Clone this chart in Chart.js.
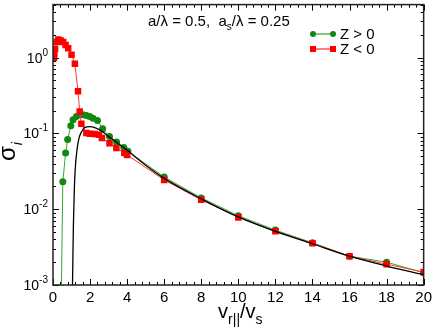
<!DOCTYPE html>
<html>
<head>
<meta charset="utf-8">
<script src="https://cdn.jsdelivr.net/npm/chart.js@4"></script>
<style>
  html, body { margin: 0; padding: 0; background: #fff; }
  #c { display: block; }
</style>
</head>
<body>
<canvas id="c" width="436" height="333"></canvas>
<script>
// Z > 0 (green circles)
const zPosV     = [0.40, 0.53, 0.68, 0.79, 0.96, 1.08, 1.26, 1.44, 1.62, 1.80, 1.98, 2.16, 2.40, 2.68, 3.05, 3.43, 3.82, 4.04, 6, 8, 10, 12, 14, 16, 18, 20];
const zPosSigma = [0.0001, 0.023, 0.055, 0.083, 0.126, 0.151, 0.167, 0.176, 0.176, 0.172, 0.167, 0.158, 0.148, 0.115, 0.091, 0.077, 0.065, 0.058, 0.0266, 0.0141, 0.0082, 0.0053, 0.0036, 0.0024, 0.0020, 0.00145];
// Z < 0 (red squares)
const zNegV     = [0.05, 0.07, 0.11, 0.20, 0.28, 0.41, 0.55, 0.68, 0.82, 1.00, 1.18, 1.35, 1.44, 1.53, 1.80, 1.98, 2.25, 2.48, 2.64, 3.05, 3.42, 3.85, 4.00, 6, 8, 10, 12, 14, 16, 18, 20];
const zNegSigma = [0.985, 1.12, 1.30, 1.60, 1.73, 1.68, 1.60, 1.47, 1.33, 1.09, 0.83, 0.36, 0.194, 0.134, 0.101, 0.099, 0.098, 0.096, 0.087, 0.074, 0.064, 0.055, 0.052, 0.0243, 0.0133, 0.0078, 0.0051, 0.00355, 0.0024, 0.00188, 0.00148];
// theory (black curve)
const theoryV     = [1.00, 1.04, 1.07, 1.10, 1.15, 1.20, 1.30, 1.40, 1.55, 1.70, 2.00, 2.50, 3.00, 3.50, 4.00, 5.00, 6, 8, 10, 12, 14, 16, 18, 20];
const theorySigma = [0.0001, 0.0006, 0.002, 0.006, 0.018, 0.034, 0.062, 0.086, 0.106, 0.119, 0.123, 0.112, 0.091, 0.074, 0.060, 0.038, 0.0255, 0.0137, 0.0079, 0.0051, 0.0035, 0.0024, 0.00178, 0.00137];

const xTickVals = [0, 2, 4, 6, 8, 10, 12, 14, 16, 18, 20];
const yDecades = [-3, -2, -1, 0];
const seriesNames = ['Z > 0', 'Z < 0'];

const FONT = "'Liberation Sans', Arial, Helvetica, sans-serif";
const GREEN = '#118811';
const RED = '#ff0000';

function pts(xs, ys) {
  return xs.map((x, i) => ({ x: x, y: ys[i] }));
}

// frame, inward ticks, y labels, axis titles, legend and the note
const decor = {
  id: 'decor',
  afterDraw(chart) {
    const ctx = chart.ctx, a = chart.chartArea;
    const xs = chart.scales.x, ys = chart.scales.y;
    ctx.save();
    ctx.strokeStyle = '#000';
    ctx.lineWidth = 1;
    ctx.beginPath();
    for (let i = 0; i <= 50; i++) {
      const px = Math.round(xs.getPixelForValue(i * 0.4)) + 0.5;
      const len = (i % 5 === 0) ? 6 : 3;
      ctx.moveTo(px, a.bottom); ctx.lineTo(px, a.bottom - len);
      ctx.moveTo(px, a.top); ctx.lineTo(px, a.top + len);
    }
    for (let d = -3; d <= 0; d++) {
      for (let m = 1; m <= 9; m++) {
        const val = m * Math.pow(10, d);
        if (val > ys.max) break;
        const py = Math.round(ys.getPixelForValue(val)) + 0.5;
        const len = m === 1 ? 6 : 3;
        ctx.moveTo(a.left, py); ctx.lineTo(a.left + len, py);
        ctx.moveTo(a.right, py); ctx.lineTo(a.right - len, py);
      }
    }
    ctx.stroke();
    ctx.lineWidth = 1.5;
    ctx.strokeStyle = '#222';
    ctx.strokeRect(a.left, a.top, a.right - a.left, a.bottom - a.top);

    // y tick labels 10^n
    ctx.fillStyle = '#000';
    ctx.textBaseline = 'alphabetic';
    yDecades.forEach(d => {
      const py = ys.getPixelForValue(Math.pow(10, d));
      ctx.font = '14px ' + FONT;
      const w10 = ctx.measureText('10').width;
      ctx.font = '10px ' + FONT;
      const sup = String(d);
      const ws = ctx.measureText(sup).width;
      const right = a.left - 5;
      ctx.font = '14px ' + FONT;
      ctx.textAlign = 'left';
      ctx.fillText('10', right - ws - w10, py + 5);
      ctx.font = '10px ' + FONT;
      ctx.fillText(sup, right - ws, py - 2);
    });

    // x title v_r||/v_s
    const parts = [['v', 20, 0], ['r||', 14, 6], ['/v', 20, 0], ['s', 14, 6]];
    let total = 0;
    parts.forEach(p => { ctx.font = p[1] + 'px ' + FONT; total += ctx.measureText(p[0]).width; });
    let tx = (a.left + a.right) / 2 - total / 2 + 2;
    const tb = 318;
    ctx.textAlign = 'left';
    parts.forEach(p => {
      ctx.font = p[1] + 'px ' + FONT;
      ctx.fillText(p[0], tx, tb + p[2]);
      tx += ctx.measureText(p[0]).width;
    });

    // y title sigma_i, rotated
    ctx.save();
    ctx.translate(15, 161);
    ctx.rotate(-Math.PI / 2);
    ctx.font = '24px ' + FONT;
    ctx.fillText('σ', 0, 0);
    const ws = ctx.measureText('σ').width;
    ctx.font = 'italic 14px ' + FONT;
    ctx.fillText('i', ws + 1, 7);
    ctx.restore();

    // note
    ctx.font = '15px ' + FONT;
    let nx = 148;
    const nb = 26;
    ctx.fillText('a/λ = 0.5,  a', nx, nb);
    nx += ctx.measureText('a/λ = 0.5,  a').width;
    ctx.font = '10px ' + FONT;
    ctx.fillText('s', nx, nb + 4);
    nx += ctx.measureText('s').width;
    ctx.font = '15px ' + FONT;
    ctx.fillText('/λ = 0.25', nx, nb);

    // legend
    const leg = [[GREEN, 'circle', 34], [RED, 'rect', 49]];
    leg.forEach((l, i) => {
      ctx.strokeStyle = l[0];
      ctx.fillStyle = l[0];
      ctx.lineWidth = 1;
      ctx.beginPath();
      ctx.moveTo(313, l[2]); ctx.lineTo(333, l[2]);
      ctx.stroke();
      [313, 333].forEach(mx => {
        if (l[1] === 'circle') {
          ctx.beginPath(); ctx.arc(mx, l[2], 3, 0, Math.PI * 2); ctx.fill();
        } else {
          ctx.fillRect(mx - 3, l[2] - 3, 6, 6);
        }
      });
      ctx.fillStyle = '#000';
      ctx.font = '15px ' + FONT;
      ctx.fillText(seriesNames[i], 340, l[2] + 5);
    });
    ctx.restore();
  }
};

new Chart(document.getElementById('c'), {
  type: 'scatter',
  data: {
    datasets: [
      {
        label: seriesNames[0],
        data: pts(zPosV, zPosSigma),
        showLine: true,
        borderColor: '#33aa33',
        borderWidth: 1,
        backgroundColor: GREEN,
        pointBackgroundColor: GREEN,
        pointBorderWidth: 0,
        pointStyle: 'circle',
        pointRadius: 3.5,
        order: 3
      },
      {
        label: seriesNames[1],
        data: pts(zNegV, zNegSigma),
        showLine: true,
        borderColor: '#ff3333',
        borderWidth: 1,
        backgroundColor: RED,
        pointBackgroundColor: RED,
        pointBorderWidth: 0,
        pointStyle: 'rect',
        pointRadius: 4.6,
        order: 2
      },
      {
        label: 'theory',
        data: pts(theoryV, theorySigma),
        showLine: true,
        borderColor: '#000',
        borderWidth: 1.3,
        pointRadius: 0,
        cubicInterpolationMode: 'monotone',
        order: 1
      }
    ]
  },
  options: {
    responsive: false,
    animation: false,
    devicePixelRatio: 1,
    layout: { padding: { top: 2, right: 9, left: 0, bottom: 0 } },
    plugins: { legend: { display: false }, tooltip: { enabled: false } },
    scales: {
      x: {
        type: 'linear',
        min: 0, max: 20,
        afterFit: s => { s.height = 48; },
        afterBuildTicks: s => { s.ticks = xTickVals.map(v => ({ value: v })); },
        grid: { display: false, drawTicks: false },
        border: { display: false },
        ticks: { color: '#000', font: { size: 15, family: FONT }, padding: 4, maxRotation: 0 }
      },
      y: {
        type: 'logarithmic',
        min: 0.001, max: 5,
        afterFit: s => { s.width = 53; },
        grid: { display: false, drawTicks: false },
        border: { display: false },
        ticks: { display: false }
      }
    }
  },
  plugins: [decor]
});
</script>
</body>
</html>
